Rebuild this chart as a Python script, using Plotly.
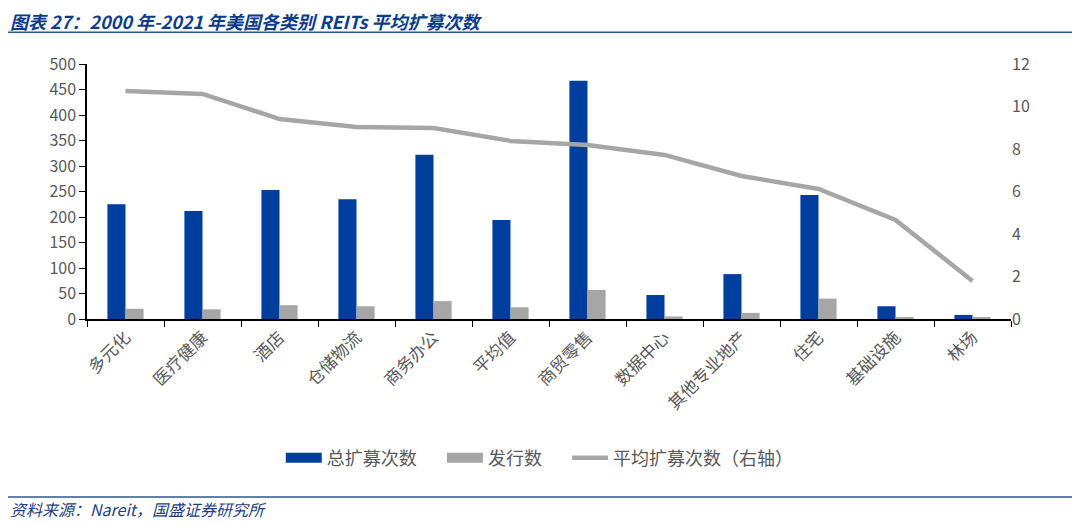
import plotly.graph_objects as go

categories = ["多元化", "医疗健康", "酒店", "仓储物流", "商务办公", "平均值",
              "商贸零售", "数据中心", "其他专业地产", "住宅", "基础设施", "林场"]
total_raises = [225, 212, 253, 235, 322, 194, 467, 47, 88, 243, 25, 8]
issuers = [20, 19, 27, 25, 35, 23, 57, 5, 12, 40, 4, 3]
avg_raises = [10.73, 10.59, 9.41, 9.04, 8.99, 8.38, 8.19, 7.72, 6.73, 6.12, 4.66, 1.79]

BLUE = "#003E9E"
GRAY = "#A6A6A6"
FONT = "Noto Sans CJK SC"
NB = "\u00a0"

fig = go.Figure()
fig.add_trace(go.Bar(x=categories, y=total_raises, name="总扩募次数", showlegend=False,
                     marker=dict(color=BLUE, line=dict(width=0))))
fig.add_trace(go.Bar(x=categories, y=issuers, name="发行数", showlegend=False,
                     marker=dict(color=GRAY, line=dict(width=0))))
fig.add_trace(go.Scatter(x=categories, y=avg_raises, name="平均扩募次数（右轴）",
                         mode="lines", line=dict(color=GRAY, width=4.5), yaxis="y2",
                         showlegend=False))

# legend entries: wide rectangles for bars, thin line for the line series
fig.add_trace(go.Scatter(x=[None], y=[None], mode="lines", name="总扩募次数" + NB * 5,
                         line=dict(color=BLUE, width=13)))
fig.add_trace(go.Scatter(x=[None], y=[None], mode="lines", name="发行数" + NB * 5,
                         line=dict(color=GRAY, width=13)))
fig.add_trace(go.Scatter(x=[None], y=[None], mode="lines", name="平均扩募次数（右轴）",
                         line=dict(color=GRAY, width=4.5)))

# page body adds an 8px offset, so the figure is 8px smaller each way
fig.update_layout(
    width=1072, height=516,
    paper_bgcolor="white", plot_bgcolor="white",
    font=dict(family=FONT, color="#595959", size=15),
    margin=dict(l=79, r=69, t=56, b=205),
    barmode="group", bargap=0.53, bargroupgap=0,
    xaxis=dict(showline=True, linecolor="black", linewidth=1.5,
               ticks="outside", tickson="boundaries", ticklen=6, tickcolor="black",
               tickangle=-45, tickfont=dict(size=17, color="#595959")),
    yaxis=dict(range=[0, 500], dtick=50, showgrid=False, showline=True,
               linecolor="black", linewidth=1.5, ticks="outside", ticklen=6,
               tickcolor="black", tickfont=dict(size=16, color="#595959"),
               zeroline=False),
    yaxis2=dict(range=[0, 12], dtick=2, overlaying="y", side="right",
                showgrid=False, showline=False, zeroline=False,
                tickfont=dict(size=16, color="#595959")),
    legend=dict(orientation="h", x=0.49, xanchor="center", y=-0.545, yanchor="middle",
                font=dict(size=18, color="#595959"), traceorder="normal",
                entrywidth=0, itemwidth=36),
)

# title, rules and source
fig.add_annotation(text="<b><i>图表 27：2000 年-2021 年美国各类别 REITs 平均扩募次数</i></b>",
                   xref="paper", yref="paper", x=-0.086, y=1.168,
                   xanchor="left", yanchor="middle", showarrow=False,
                   font=dict(family=FONT, size=18, color="#0B3C8C"))
fig.add_shape(type="line", xref="paper", yref="paper", x0=-0.094, x1=1.075,
              y0=1.125, y1=1.125, line=dict(color="#2E5597", width=1.5))
fig.add_shape(type="line", xref="paper", yref="paper", x0=-0.094, x1=1.075,
              y0=-0.698, y1=-0.698, line=dict(color="#2E5597", width=1.5))
fig.add_annotation(text="<i>资料来源：Nareit，国盛证券研究所</i>",
                   xref="paper", yref="paper", x=-0.086, y=-0.745,
                   xanchor="left", yanchor="middle", showarrow=False,
                   font=dict(family=FONT, size=16, color="#1F3F80"))

fig.write_html("out.html")
